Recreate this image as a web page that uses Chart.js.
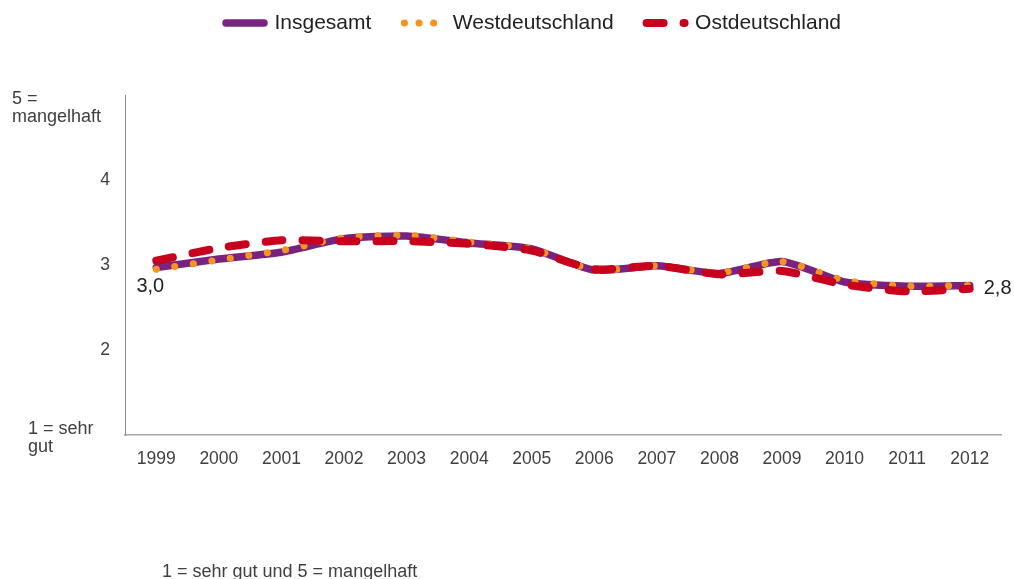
<!DOCTYPE html>
<html>
<head>
<meta charset="utf-8">
<script src="https://cdn.jsdelivr.net/npm/chart.js@4/dist/chart.umd.min.js"></script>
<style>
  html, body { margin: 0; padding: 0; background: #fff; }
  #wrap { width: 1014px; height: 579px; }
</style>
</head>
<body>
<div id="wrap"><canvas id="myChart" width="1014" height="579"></canvas></div>
<script>
// Daten (Schulnoten 1 = sehr gut, 5 = mangelhaft)
const jahre = ["1999", "2000", "2001", "2002", "2003", "2004", "2005", "2006", "2007", "2008", "2009", "2010", "2011", "2012"];
const insgesamt = [2.97, 3.07, 3.15, 3.31, 3.34, 3.26, 3.19, 2.94, 2.99, 2.90, 3.04, 2.80, 2.75, 2.76];
const westdeutschland = [2.95, 3.06, 3.17, 3.32, 3.35, 3.27, 3.19, 2.94, 2.99, 2.91, 3.04, 2.82, 2.75, 2.76];
const ostdeutschland = [3.05, 3.20, 3.29, 3.28, 3.28, 3.25, 3.17, 2.95, 2.99, 2.89, 2.93, 2.77, 2.69, 2.72];
const yTicks = ["", "2", "3", "4", ""];
const labelOben = ["5 =", "mangelhaft"];
const labelUnten = ["1 = sehr", "gut"];
const fussnote = "1 = sehr gut und 5 = mangelhaft";

const FONT = '"Liberation Sans", Arial, sans-serif';
Chart.defaults.font.family = FONT;
Chart.defaults.color = "#404040";

function formatZahl(v) {
  return v.toFixed(1).replace(".", ",");
}

// Legende verschieben, Hoehe fest
const legendeHack = {
  id: "legendeHack",
  beforeInit(chart) {
    const lg = chart.legend;
    const fit = lg.fit;
    lg.fit = function () {
      fit.call(this);
      this.height = 95;
    };
    const draw = lg.draw;
    lg.draw = function (area) {
      const ctx = this.ctx;
      ctx.save();
      ctx.translate(33, -20.5);
      draw.call(this, area);
      ctx.restore();
    };
  }
};

// Zusatztexte: Achsenenden, Wertelabels, Fussnote
const texte = {
  id: "texte",
  afterDraw(chart) {
    const ctx = chart.ctx;
    const y = chart.scales.y;
    ctx.save();
    ctx.fillStyle = "#404040";
    ctx.font = "18px " + FONT;
    ctx.textAlign = "left";
    ctx.textBaseline = "middle";
    let y5 = y.getPixelForValue(5);
    ctx.fillText(labelOben[0], 12, y5 + 4);
    ctx.fillText(labelOben[1], 12, y5 + 22);
    let y1 = y.getPixelForValue(1);
    ctx.fillText(labelUnten[0], 28, y1 - 6);
    ctx.fillText(labelUnten[1], 28, y1 + 12);

    ctx.fillText(fussnote, 162, 572);

    let meta = chart.getDatasetMeta(0);
    let p0 = meta.data[0];
    let pN = meta.data[meta.data.length - 1];
    ctx.fillStyle = "#222";
    ctx.font = "20px " + FONT;
    ctx.textAlign = "center";
    ctx.fillText(formatZahl(insgesamt[0]), p0.x - 6, p0.y + 19);
    ctx.textAlign = "left";
    ctx.fillText(formatZahl(insgesamt[insgesamt.length - 1]), pN.x + 14, pN.y + 3);
    ctx.restore();
  }
};

const data = {
  labels: jahre,
  datasets: [
    {
      label: "Insgesamt",
      data: insgesamt,
      borderColor: "#78237f",
      backgroundColor: "#78237f",
      borderWidth: 7.5,
      borderCapStyle: "round",
      borderJoinStyle: "round",
      tension: 0.2,
      pointRadius: 0,
      order: 3
    },
    {
      label: "Westdeutschland",
      data: westdeutschland,
      borderColor: "#f7941d",
      backgroundColor: "#f7941d",
      borderWidth: 7,
      borderDash: [0.1, 18.6],
      borderCapStyle: "round",
      tension: 0.2,
      pointRadius: 0,
      order: 2
    },
    {
      label: "Ostdeutschland",
      data: ostdeutschland,
      borderColor: "#c8001e",
      backgroundColor: "#c8001e",
      borderWidth: 8,
      borderDash: [17, 20],
      borderCapStyle: "round",
      tension: 0.2,
      pointRadius: 0,
      order: 1
    }
  ]
};

const config = {
  type: "line",
  data: data,
  options: {
    responsive: false,
    animation: false,
    devicePixelRatio: 1,
    layout: { padding: { left: 0, right: 13, top: 0, bottom: 0 } },
    plugins: {
      tooltip: { enabled: false },
      legend: {
        position: "top",
        align: "center",
        labels: {
          font: { size: 21, family: FONT },
          color: "#222",
          padding: 33,
          boxWidth: 38,
          usePointStyle: true,
          pointStyle: "line",
          pointStyleWidth: 38,
          generateLabels(chart) {
            return chart.data.datasets.map((ds, i) => ({
              text: ds.label,
              fillStyle: ds.borderColor,
              strokeStyle: ds.borderColor,
              lineWidth: ds.borderWidth,
              lineDash: i === 1 ? [0.1, 14.5] : (ds.borderDash || []),
              lineCap: "round",
              pointStyle: "line",
              hidden: false,
              fontColor: "#222",
              datasetIndex: i
            }));
          }
        }
      }
    },
    scales: {
      x: {
        offset: true,
        grid: { display: false, drawTicks: false },
        border: { display: true, color: "#a6a6a6", width: 1.5 },
        ticks: { font: { size: 17.5 }, color: "#404040", padding: 14, maxRotation: 0 },
        afterFit(scale) { scale.height = 144; }
      },
      y: {
        min: 1,
        max: 5,
        grid: { display: false, drawTicks: false },
        border: { display: true, color: "#8c8c8c", width: 1 },
        ticks: {
          stepSize: 1,
          font: { size: 17.5 },
          color: "#404040",
          padding: 15,
          callback: (v) => yTicks[v - 1]
        },
        afterFit(scale) { scale.width = 125; }
      }
    }
  },
  plugins: [legendeHack, texte]
};

const ctx = document.getElementById("myChart");
const myChart = new Chart(ctx, config);
</script>
</body>
</html>
